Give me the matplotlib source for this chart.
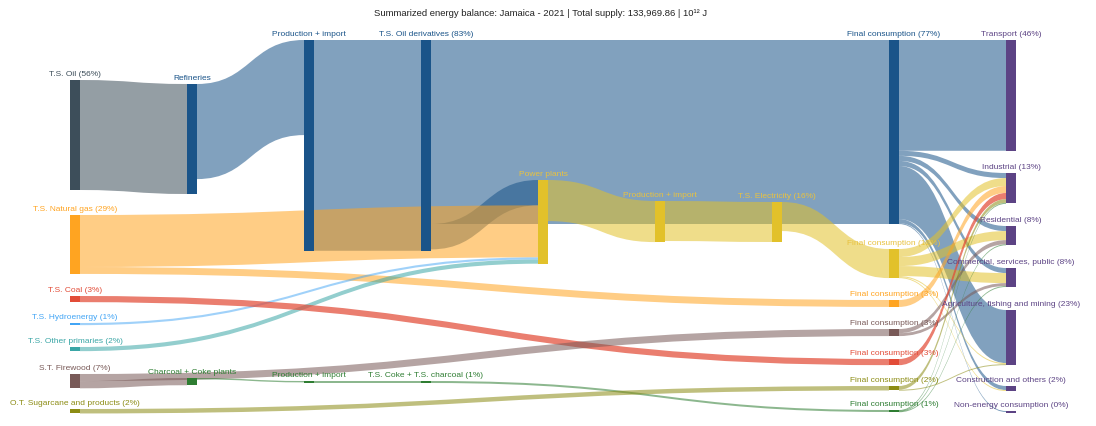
import numpy as np
import matplotlib.pyplot as plt
from matplotlib.path import Path
from matplotlib.patches import PathPatch, Rectangle

plt.rcParams['font.family'] = ['Liberation Sans', 'DejaVu Sans']

# ---- data (10^12 J) ----
title = "Summarized energy balance: Jamaica - 2021 | Total supply: 133,969.86 | 10¹² J"

node_labels = [
    "T.S. Oil (56%)", "T.S. Natural gas (29%)", "T.S. Coal (3%)", "T.S. Hydroenergy (1%)",
    "T.S. Other primaries (2%)", "S.T. Firewood (7%)", "O.T. Sugarcane and products (2%)",
    "Refineries", "Charcoal + Coke plants",
    "Production + import", "Production + import",
    "T.S. Oil derivatives (83%)", "T.S. Coke + T.S. charcoal (1%)",
    "Power plants", "Production + import", "T.S. Electricity (16%)",
    "Final consumption (77%)", "Final consumption (12%)", "Final consumption (3%)",
    "Final consumption (3%)", "Final consumption (3%)", "Final consumption (2%)",
    "Final consumption (1%)",
    "Transport (46%)", "Industrial (13%)", "Residential (8%)",
    "Commercial, services, public (8%)", "Agriculture, fishing and mining (23%)",
    "Construction and others (2%)", "Non-energy consumption (0%)",
]
(OIL, NG, COAL, HYD, OTH, FIRE, SUG, REF, CHAR, PRD, PRC, TSD, TSC, PP, PRE, TSE,
 FOIL, FELE, FNG, FFIR, FCOA, FSUG, FCOK, TRA, IND, RES, COM, AGR, CON, NON) = range(30)

link_src = [OIL, REF, PRD, TSD, TSD, NG, NG, HYD, OTH, PP, PRE, TSE, COAL, FIRE, FIRE,
            CHAR, PRC, TSC, SUG,
            FOIL, FOIL, FOIL, FOIL, FOIL, FOIL, FOIL,
            FELE, FELE, FELE, FELE, FELE,
            FNG, FFIR, FFIR, FCOA, FSUG, FSUG, FCOK, FCOK, FCOK]
link_tgt = [REF, PRD, TSD, FOIL, PP, PP, FNG, PP, PP, PRE, TSE, FELE, FCOA, FFIR, CHAR,
            PRC, TSC, FCOK, FSUG,
            TRA, IND, RES, COM, AGR, CON, NON,
            IND, RES, COM, AGR, CON,
            IND, RES, COM, IND, IND, AGR, IND, RES, COM]
link_val = [71500, 61800, 137000, 119600, 16500, 33800, 4500, 1400, 2700, 26700, 26000, 18900,
            4000, 4600, 4700, 900, 1300, 1300, 2900,
            72000, 3300, 3300, 3300, 34500, 2600, 600,
            5200, 5900, 6500, 700, 600,
            4500, 2700, 1900, 4000, 2400, 500, 400, 400, 500]

# ---- layout / style ----
node_col = [0, 0, 0, 0, 0, 0, 0, 1, 1, 2, 2, 3, 3, 4, 5, 6,
            7, 7, 7, 7, 7, 7, 7, 8, 8, 8, 8, 8, 8, 8]
node_top = [80, 215, 296, 323, 347, 374, 409, 84, 378, 40, 381, 40, 381, 180, 201, 202,
            40, 249, 300, 329, 359, 386, 410, 40, 173, 226, 268, 310, 386, 411]
C_OIL, C_DER, C_ELE, C_NG = "#3d4e5a", "#1a5489", "#e2c12a", "#ffa421"
C_COA, C_HYD, C_OTH, C_FIR = "#e24c38", "#42a5f5", "#3aa6a6", "#795a58"
C_COK, C_SUG, C_SEC = "#2e7d32", "#8c8c14", "#5c4384"
node_color = [C_OIL, C_NG, C_COA, C_HYD, C_OTH, C_FIR, C_SUG, C_DER, C_COK, C_DER, C_COK,
              C_DER, C_COK, C_ELE, C_ELE, C_ELE, C_DER, C_ELE, C_NG, C_FIR, C_COA, C_SUG,
              C_COK] + [C_SEC] * 7
label_color = list(node_color)
for i in (PP, PRE, TSE, FELE):
    label_color[i] = "#e8c240"
link_alpha = {C_COA: 0.72, C_HYD: 0.5}

scale = 1 / 650.0     # px per 10^12 J
x0, dx, nw = 70, 117, 10

links = list(zip(link_src, link_tgt, link_val))
n = len(node_labels)
vin = np.zeros(n)
vout = np.zeros(n)
for s, t, v in links:
    vout[s] += v
    vin[t] += v
node_h = np.maximum(np.maximum(vin, vout) * scale, 2)
node_x = [x0 + dx * c for c in node_col]

# stacking offsets (sorted by the other end's position)
out_off = {}
in_off = {}
for i in range(n):
    outs = sorted([k for k, l in enumerate(links) if l[0] == i], key=lambda k: node_top[links[k][1]])
    y = node_top[i]
    for k in outs:
        out_off[k] = y
        y += links[k][2] * scale
    ins = sorted([k for k, l in enumerate(links) if l[1] == i], key=lambda k: node_top[links[k][0]])
    y = node_top[i]
    for k in ins:
        in_off[k] = y
        y += links[k][2] * scale

fig = plt.figure(figsize=(10.96, 4.26), dpi=100)
ax = fig.add_axes([0, 0, 1, 1])
ax.set_xlim(0, 1096)
ax.set_ylim(426, 0)
ax.axis('off')

for k, (s, t, v) in enumerate(links):
    w = max(v * scale, 1.0)
    xa = node_x[s] + nw
    xb = node_x[t]
    xm = (xa + xb) / 2
    ya, yb = out_off[k], in_off[k]
    verts = [(xa, ya), (xm, ya), (xm, yb), (xb, yb),
             (xb, yb + w), (xm, yb + w), (xm, ya + w), (xa, ya + w), (xa, ya)]
    codes = [Path.MOVETO, Path.CURVE4, Path.CURVE4, Path.CURVE4,
             Path.LINETO, Path.CURVE4, Path.CURVE4, Path.CURVE4, Path.CLOSEPOLY]
    ax.add_patch(PathPatch(Path(verts, codes), facecolor=node_color[s],
                           alpha=link_alpha.get(node_color[s], 0.55),
                           edgecolor='none', zorder=1))

for i in range(n):
    ax.add_patch(Rectangle((node_x[i], node_top[i]), nw, node_h[i],
                           facecolor=node_color[i], edgecolor='none', zorder=3))
    ax.text(node_x[i] + nw / 2, node_top[i] - 2, node_labels[i], ha='center', va='bottom',
            fontsize=6.0, color=label_color[i], zorder=4)

ax.text(541, 14, title, ha='center', va='center', fontsize=6.8, color='#222222')

fig.savefig("out.png", dpi=100)
